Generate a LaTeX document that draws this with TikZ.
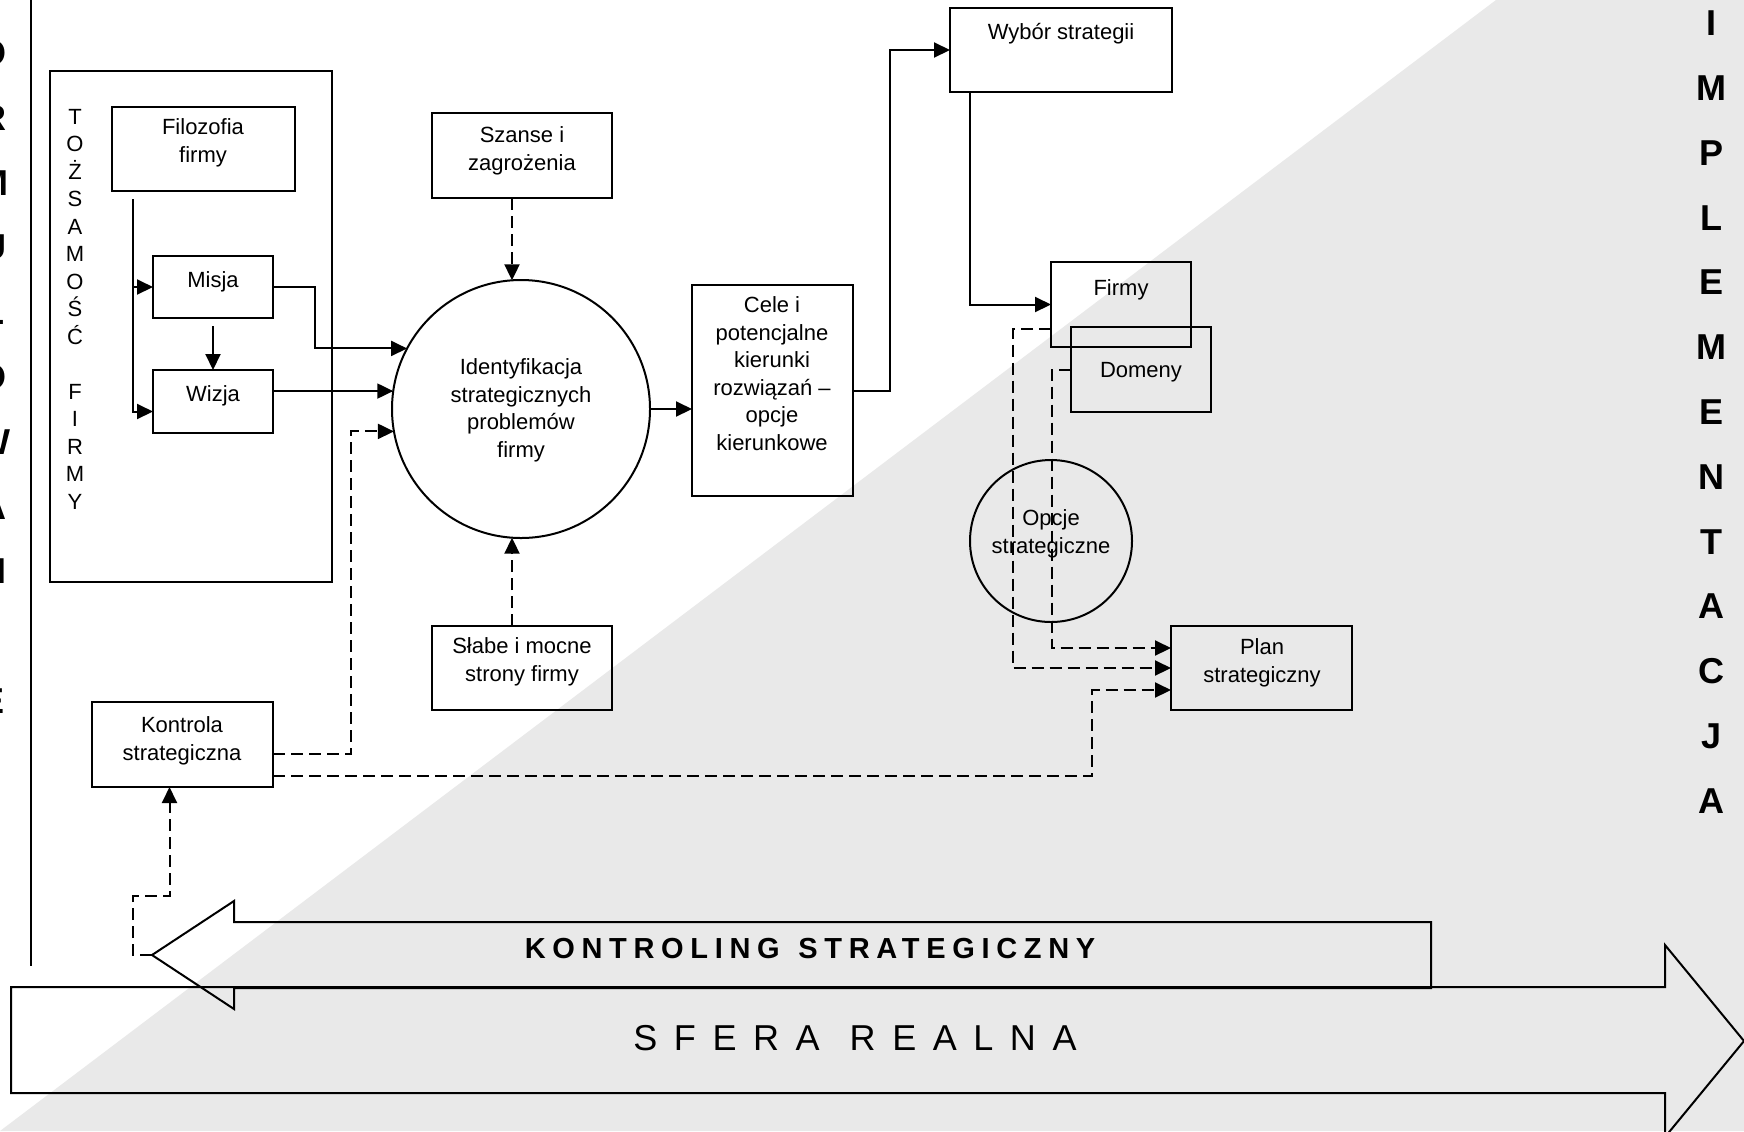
\documentclass[tikz,border=0pt]{standalone}
\usepackage{fontspec}
\setmainfont{Liberation Sans}
\usetikzlibrary{arrows.meta,calc,fit}
\definecolor{bgshade}{RGB}{233,233,233}

\begin{document}
\begin{tikzpicture}[x=0.5pt,y=-0.5pt,
  every node/.style={inner sep=0pt,outer sep=0pt},
  ln/.style={line width=1pt},
  box/.style={draw,ln},
  ring/.style={draw,ln,circle},
  txt/.style={anchor=north,align=center,
    font=\fontsize{11}{13.75}\selectfont,execute at begin node={\strut}},
  vlet/.style={anchor=north,align=center,
    font=\bfseries\fontsize{18}{32.4}\selectfont},
  arr/.style={ln,-{Triangle[length=8pt,width=7.5pt]}},
  darr/.style={arr,dash pattern=on 6pt off 3pt}]

% page and shaded implementation zone
\useasboundingbox (0,0) rectangle (1744,1131);
\fill[white] (0,0) rectangle (1744,1131);
\fill[bgshade] (0,1131) -- (1496,0) -- (1744,0) -- (1744,1131) -- cycle;

% side captions
\node[vlet] (form) at (-7,-24) {F\\O\\R\\M\\U\\Ł\\O\\W\\A\\N\\I\\E};
\node[vlet] (impl) at (1711,11) {I\\M\\P\\L\\E\\M\\E\\N\\T\\A\\C\\J\\A};
\draw[line width=0.8pt] (31,0) -- (31,966);

% identity of the firm
\node[box,fit={(50,71) (332,582)}] (frame) {};
\node[txt] (toz-t) at (75,109) {T\\O\\Ż\\S\\A\\M\\O\\Ś\\Ć\\\mbox{}\\F\\I\\R\\M\\Y};
\node[box,fit={(112,107) (295,191)}] (filo) {};
\node[txt] (filo-t) at (203,119) {Filozofia\\firmy};
\node[box,fit={(153,256) (273,318)}] (mis) {};
\node[txt] (mis-t) at (213,268) {Misja};
\node[box,fit={(153,370) (273,433)}] (wiz) {};
\node[txt] (wiz-t) at (213,382) {Wizja};

% strategic analysis
\node[ring,minimum size=129pt] (circ) at (521,409) {};
\node[txt] (circ-t) at (521,359) {Identyfikacja\\strategicznych\\problemów\\firmy};
\node[box,fit={(432,113) (612,198)}] (sza) {};
\node[txt] (sza-t) at (522,127) {Szanse i\\zagrożenia};
\node[box,fit={(432,626) (612,710)}] (sla) {};
\node[txt] (sla-t) at (522,638) {Słabe i mocne\\strony firmy};
\node[box,fit={(692,285) (853,496)}] (cele) {};
\node[txt] (cele-t) at (772,297) {Cele i\\potencjalne\\kierunki\\rozwiązań –\\opcje\\kierunkowe};

% choice and plan
\node[box,fit={(950,8) (1172,92)}] (wyb) {};
\node[txt] (wyb-t) at (1061,20) {Wybór strategii};
\node[box,fit={(1051,262) (1191,347)}] (fir) {};
\node[txt] (fir-t) at (1121,276) {Firmy};
\node[box,fit={(1071,327) (1211,412)}] (dom) {};
\node[txt] (dom-t) at (1141,358) {Domeny};
\node[ring,minimum size=81pt] (opc) at (1051,541) {};
\node[txt] (opc-t) at (1051,510) {Opcje\\strategiczne};
\node[box,fit={(1171,626) (1352,710)}] (plan) {};
\node[txt] (plan-t) at (1262,639) {Plan\\strategiczny};
\node[box,fit={(92,702) (273,787)}] (kon) {};
\node[txt] (kon-t) at (182,717) {Kontrola\\strategiczna};

% big band arrows
\draw[ln] (1431,922) -- (234,922) -- (234,901) -- (152,955) -- (234,1009)
  -- (234,988) -- (1431,988) -- cycle;
\coordinate (ktip) at (152,955);
\node[font=\bfseries\fontsize{14.5}{17}\selectfont\addfontfeature{LetterSpace=23}]
  (kc-t) at (810,948) {KONTROLING\hspace{2pt} STRATEGICZNY};
\draw[ln] (11,987) -- (1665,987) -- (1665,945) -- (1744,1041) -- (1665,1137)
  -- (1665,1093) -- (11,1093) -- cycle;
\node[font=\fontsize{18}{21}\selectfont\addfontfeature{LetterSpace=46}]
  (sr-t) at (855,1038) {SFERA\hspace{15pt}REALNA};

% connectors
\coordinate (fv) at ($(filo.south west)+(21,8)$);
\draw[arr] (fv) |- ($(wiz.west)+(0,10)$);
\draw[arr] (fv |- mis.west) -- (mis.west);
\draw[arr] ($(mis.south)+(0,8)$) -- (wiz.north);
\draw[arr] (mis.east) -- ++(42,0) |- (circ.152.3);
\draw[arr] (circ.172.4 -| wiz.east) -- (circ.172.4);
\draw[darr] ($(kon.east)+(0,9)$) -- ++(78,0) |- (circ.190.7);
\draw[darr] (circ.94 |- sza.south) -- (circ.94);
\draw[darr] (circ.266 |- sla.north) -- (circ.266);
\draw[arr] (circ.east) -- (circ.east -| cele.west);
\draw[arr] (cele.east) -- ++(37,0) |- (wyb.west);
\draw[arr] ($(wyb.south west)+(20,0)$) |- (fir.west);
\draw[darr] ($(fir.west)+(0,24)$) -- ++(-38,0) |- (plan.west);
\draw[darr] (dom.west) -- ++(-19,0) |- ($(plan.west)+(0,-20)$);
\draw[darr] ($(kon.east)+(0,31)$) -- ++(819,0) |- ($(plan.west)+(0,22)$);
\draw[darr] (ktip) -- ++(-19,0) -- ++(0,-59) -| ($(kon.south)+(-13,0)$);
\end{tikzpicture}
\end{document}
